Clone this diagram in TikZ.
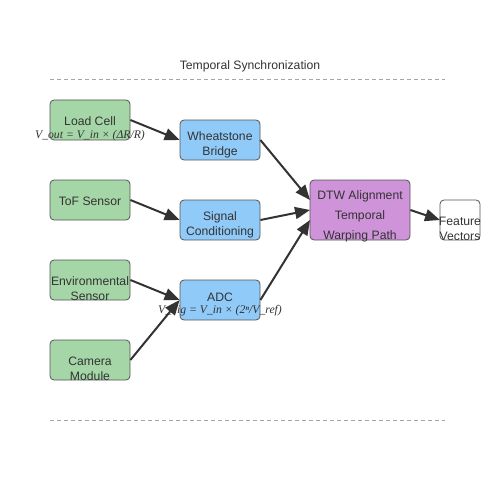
\documentclass[tikz,border=0pt]{standalone}
\usepackage{fontspec}
\setmainfont{Liberation Sans}
\newfontfamily\formfont{Liberation Serif}
\usetikzlibrary{arrows.meta}
\definecolor{txt}{HTML}{333333}
\definecolor{edge}{HTML}{555555}
\definecolor{gfill}{HTML}{A5D6A7}
\definecolor{bfill}{HTML}{90CAF9}
\definecolor{pfill}{HTML}{CE93D8}
\begin{document}
\begin{tikzpicture}[x=1pt,y=-1pt,
  box/.style={draw=edge, line width=0.8pt, rounded corners=4pt, inner sep=0pt},
  sensor/.style={box, fill=gfill, minimum width=80pt, minimum height=40pt},
  proc/.style={box, fill=bfill, minimum width=80pt, minimum height=40pt},
  alignbox/.style={box, fill=pfill, minimum width=100pt, minimum height=60pt},
  outbox/.style={box, fill=white, minimum width=40pt, minimum height=40pt},
  lbl/.style={text=txt, font=\fontsize{12.2}{15}\selectfont, align=center, inner sep=0pt},
  form/.style={text=txt, font=\formfont\itshape\fontsize{11.7}{14}\selectfont, inner sep=0pt},
  conn/.style={draw=txt, line width=2pt, -{Triangle[length=15pt,width=12pt]}},
  guide/.style={draw=gray!70, line width=1pt, dash pattern=on 4pt off 3pt}]
\useasboundingbox (0,0) rectangle (500,500);
% title and guides
\node[lbl] (title) at (250,66) {Temporal Synchronization};
\coordinate (g1a) at (50,80); \coordinate (g1b) at (445,80);
\coordinate (g2a) at (50,420); \coordinate (g2b) at (445,420);
\draw[guide] (g1a) -- (g1b);
\draw[guide] (g2a) -- (g2b);
% boxes
\node[sensor] (lc) at (90,120) {};
\node[sensor] (tof) at (90,200) {};
\node[sensor] (env) at (90,280) {};
\node[sensor] (cam) at (90,360) {};
\node[proc] (wb) at (220,140) {};
\node[proc] (sc) at (220,220) {};
\node[proc] (adc) at (220,300) {};
\node[alignbox] (dtw) at (360,210) {};
\node[outbox] (fv) at (460,220) {};
% texts
\node[lbl] (lct) at (90,121) {Load Cell};
\node[lbl] (toft) at (90,201) {ToF Sensor};
\node[lbl] (envt) at (90,289) {Environmental\\Sensor};
\node[lbl] (camt) at (90,369) {Camera\\Module};
\node[lbl] (wbt) at (220,145) {Wheatstone\\Bridge};
\node[lbl] (sct) at (220,225) {Signal\\Conditioning};
\node[lbl] (adct) at (220,297) {ADC};
\node[lbl, font=\fontsize{12.2}{20}\selectfont] (dtwt) at (360,216) {DTW Alignment\\Temporal\\Warping Path};
\node[lbl] (fvt) at (460,229) {Feature\\Vectors};
% formulas
\node[form] (f1) at (90,136) {V\_out = V\_in × (ΔR/R)};
\node[form] (f2) at (220,311) {V\_dig = V\_in × (2ⁿ/V\_ref)};
% connectors
\coordinate (d1) at (310,200);
\coordinate (d2) at (310,210);
\coordinate (d3) at (310,220);
\coordinate (fin) at (440,220);
\draw[conn] (lc.east) -- (wb.west);
\draw[conn] (tof.east) -- (sc.west);
\draw[conn] (env.east) -- (adc.west);
\draw[conn] (cam.east) -- (adc.west);
\draw[conn] (wb.east) -- (d1);
\draw[conn] (sc.east) -- (d2);
\draw[conn] (adc.east) -- (d3);
\draw[conn] (dtw.east) -- (fin);
\end{tikzpicture}
\end{document}
